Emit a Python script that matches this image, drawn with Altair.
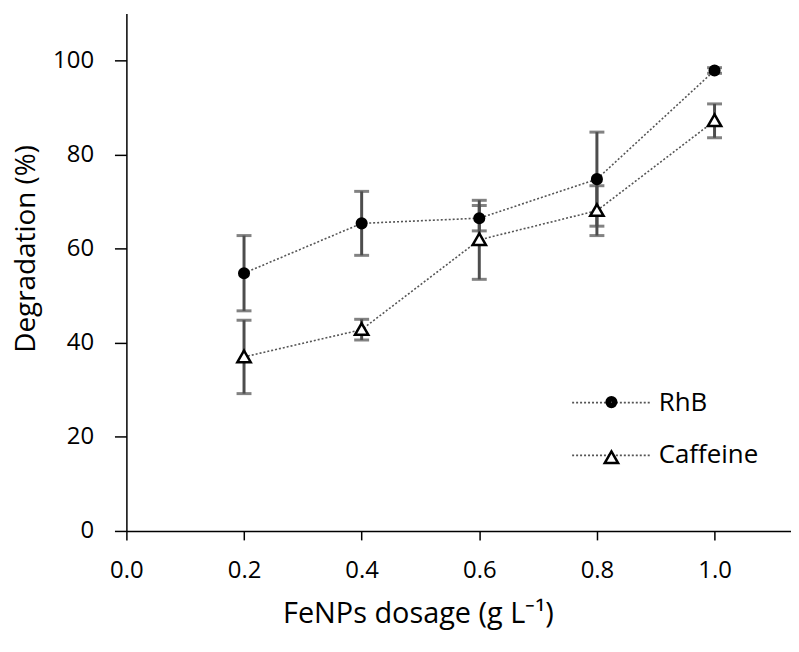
import altair as alt
import pandas as pd

# ---- data ----
dosage = [0.2, 0.4, 0.6, 0.8, 1.0]
rhb = [54.8, 65.4, 66.5, 74.8, 97.9]
rhb_err = [8.0, 6.8, 2.7, 10.0, 0.6]
caffeine = [37.0, 42.8, 61.9, 68.1, 87.2]
caffeine_err = [7.8, 2.2, 8.4, 5.3, 3.6]
series_names = ["RhB", "Caffeine"]
x_ticks = [0.0, 0.2, 0.4, 0.6, 0.8, 1.0]
y_ticks = [0, 20, 40, 60, 80, 100]

rows = []
for name, vals, errs in [(series_names[0], rhb, rhb_err), (series_names[1], caffeine, caffeine_err)]:
    for d, v, e in zip(dosage, vals, errs):
        rows.append({"dosage": d, "value": v, "lo": v - e, "hi": v + e,
                     "series": name, "marker": name})
df = pd.DataFrame(rows)

FONT = "Open Sans"


def ring(r):
    return f"M{-r},0A{r},{r} 0 1,0 {r},0A{r},{r} 0 1,0 {-r},0Z"


# solid disc drawn as concentric stroked rings (so it stays solid in the legend too)
DISC = ring(0.12) + ring(0.42) + ring(0.72)
TRIANGLE = "M0,-0.95L1,0.78L-1,0.78Z"
MARK_SIZE = 180

x_enc = alt.X("dosage:Q",
              scale=alt.Scale(domain=[0, 1.13], nice=False, zero=False),
              axis=alt.Axis(values=x_ticks, format=".1f", grid=False,
                            tickSize=9, tickWidth=1.5, tickColor="black",
                            domainColor="black", domainWidth=1.5,
                            labelFont=FONT, labelFontSize=24, labelColor="black",
                            labelPadding=19, labelFlush=False,
                            title="FeNPs dosage (g L\u207b\u00b9)", titleFont=FONT,
                            titleFontSize=29, titleFontWeight="normal", titleColor="black",
                            titleX=293, titleY=92, titleBaseline="alphabetic",
                            titleAlign="center"))
y_scale = alt.Scale(domain=[0, 110], nice=False)
y_axis = alt.Axis(values=y_ticks, grid=False, tickSize=12, tickWidth=1.5, tickColor="black",
                  domainColor="black", domainWidth=1.5,
                  labelFont=FONT, labelFontSize=24, labelColor="black", labelPadding=21,
                  labelFlush=False,
                  title="Degradation (%)", titleFont=FONT, titleFontSize=28,
                  titleFontWeight="normal", titleColor="black",
                  titleX=-92, titleY=236, titleBaseline="alphabetic", titleAlign="center",
                  titleAngle=270)

base = alt.Chart(df)

err_rule = base.mark_rule(color="#4d4d4d", strokeWidth=3).encode(
    x=x_enc,
    y=alt.Y("lo:Q", scale=y_scale, axis=y_axis),
    y2="hi:Q",
)
cap_lo = base.mark_tick(color="#4d4d4d", orient="horizontal", size=15, thickness=3).encode(
    x="dosage:Q", y="lo:Q")
cap_hi = base.mark_tick(color="#4d4d4d", orient="horizontal", size=15, thickness=3).encode(
    x="dosage:Q", y="hi:Q")

lines = base.mark_line(color="#555555", strokeWidth=1.6).encode(
    x="dosage:Q",
    y="value:Q",
    strokeDash=alt.StrokeDash(
        "series:N",
        scale=alt.Scale(domain=series_names, range=[[2, 2], [2, 2]]),
        legend=alt.Legend(orient="none", legendX=447, legendY=351, title=None,
                          symbolType="stroke", symbolSize=6084, symbolStrokeWidth=1.6,
                          symbolStrokeColor="#555555", padding=0,
                          labelFont=FONT, labelFontSize=26, labelColor="black",
                          labelOffset=8, rowPadding=-23),
    ),
)

points = base.mark_point(
    filled=True, stroke="black", strokeWidth=2.5, opacity=1, size=MARK_SIZE
).encode(
    x="dosage:Q",
    y="value:Q",
    shape=alt.Shape("marker:N", sort=series_names,
                    scale=alt.Scale(range=[DISC, TRIANGLE]),
                    legend=alt.Legend(orient="none", legendX=475, legendY=378, title=None,
                                      padding=0, symbolStrokeColor="black",
                                      symbolFillColor="white", symbolSize=MARK_SIZE,
                                      symbolStrokeWidth=2.5, symbolOpacity=1,
                                      labelExpr="''", labelFont=FONT, labelFontSize=25,
                                      labelOffset=10, rowPadding=30)),
    color=alt.Color("marker:N", sort=series_names,
                    scale=alt.Scale(range=["black", "white"]), legend=None),
)

chart = alt.layer(err_rule, cap_lo, cap_hi, lines, points).properties(
    width=668, height=520,
    autosize=alt.AutoSizeParams(type="none"),
    padding={"left": 119, "top": 4, "right": 0, "bottom": 110},
    background="white",
).configure_view(stroke=None)

chart.save("out.html", embed_options={"renderer": "svg", "actions": False})
